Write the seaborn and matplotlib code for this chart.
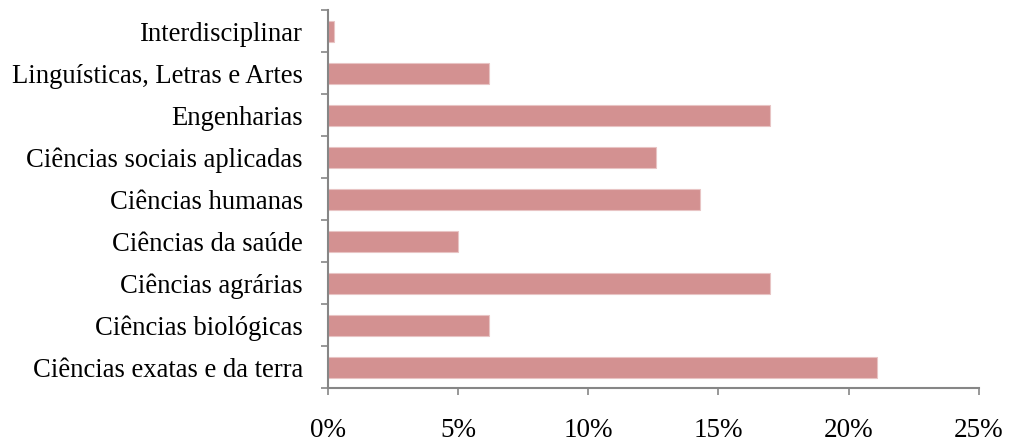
import matplotlib
matplotlib.use("Agg")
import matplotlib.pyplot as plt
import seaborn as sns
import pandas as pd
import numpy as np
from matplotlib.ticker import FixedLocator, FuncFormatter

categories = [
    "Interdisciplinar",
    "Linguísticas, Letras e Artes",
    "Engenharias",
    "Ciências sociais aplicadas",
    "Ciências humanas",
    "Ciências da saúde",
    "Ciências agrárias",
    "Ciências biológicas",
    "Ciências exatas e da terra",
]
values = [0.25, 6.17, 17.0, 12.6, 14.3, 5.0, 17.0, 6.17, 21.1]
xticks = [0, 5, 10, 15, 20, 25]

df = pd.DataFrame({"area": categories, "pct": values})

sns.set_style("white")
plt.rcParams["font.family"] = ["Liberation Serif", "DejaVu Serif"]

fig = plt.figure(figsize=(10.09, 4.41), dpi=100)
ax = fig.add_axes([0.325, 0.120, 0.645, 0.857])

sns.barplot(data=df, x="pct", y="area", order=categories, orient="h",
            color="#D39191", width=0.5, saturation=1, ax=ax,
            edgecolor="#E8C4C4", linewidth=0.8)

ax.set_xlim(0, 25)
ax.set_ylim(len(categories) - 0.5, -0.5)
ax.set_xticks(xticks)
ax.xaxis.set_major_formatter(FuncFormatter(lambda v, p: f"{v:.0f}%"))
ax.set_xlabel("")
ax.set_ylabel("")

ax.yaxis.set_minor_locator(FixedLocator(np.arange(-0.5, len(categories), 1.0)))
ax.tick_params(axis="y", which="major", length=0, pad=18, labelsize=19.2, colors="black")
ax.tick_params(axis="y", which="minor", length=5, width=1.2, color="#868686", left=True)
ax.tick_params(axis="x", which="major", length=5, width=1.2, color="#868686",
               pad=16.5, labelsize=19.5, labelcolor="black", bottom=True)

for s in ["top", "right"]:
    ax.spines[s].set_visible(False)
for s in ["left", "bottom"]:
    ax.spines[s].set_color("#868686")
    ax.spines[s].set_linewidth(1.5)

fig.savefig("out.png", dpi=100)
